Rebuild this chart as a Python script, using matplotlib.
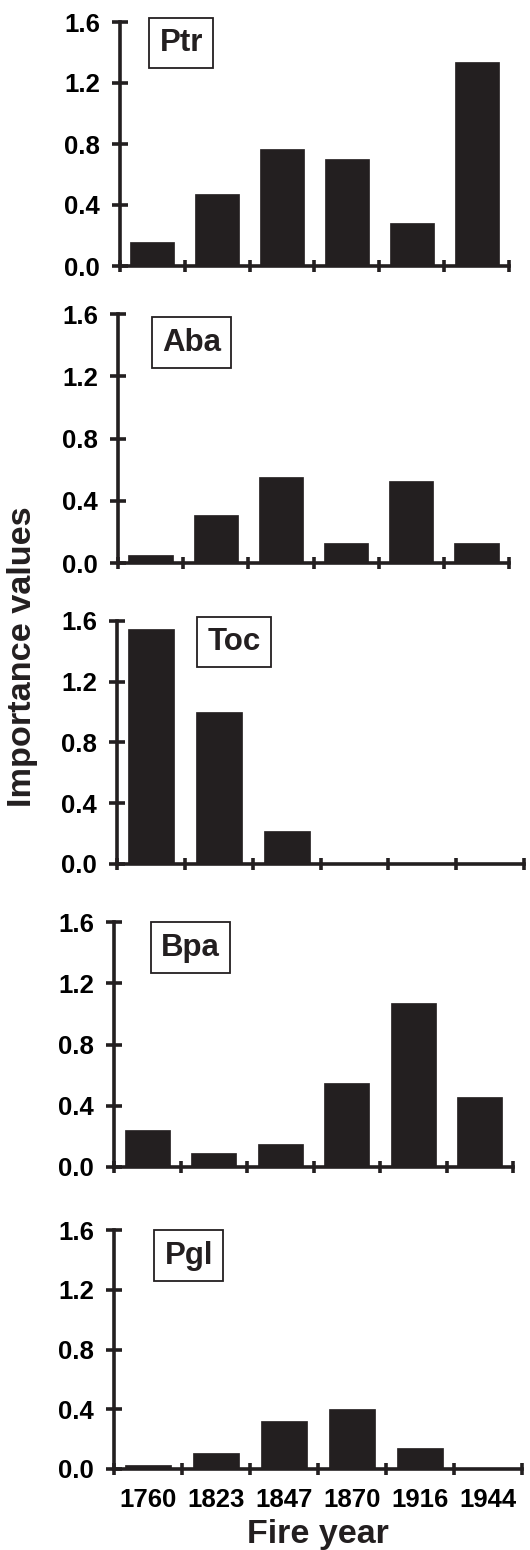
import matplotlib
matplotlib.use('Agg')
import matplotlib.pyplot as plt

plt.rcParams['font.family'] = ['Liberation Sans', 'DejaVu Sans']
plt.rcParams['font.weight'] = 'bold'

years = ['1760', '1823', '1847', '1870', '1916', '1944']
species = ['Ptr', 'Aba', 'Toc', 'Bpa', 'Pgl']
ptr = [0.16, 0.47, 0.77, 0.70, 0.28, 1.34]
aba = [0.05, 0.31, 0.55, 0.13, 0.53, 0.13]
toc = [1.55, 1.00, 0.22, 0.0, 0.0, 0.0]
bpa = [0.24, 0.09, 0.15, 0.55, 1.07, 0.46]
pgl = [0.03, 0.11, 0.32, 0.40, 0.14, 0.0]
values = [ptr, aba, toc, bpa, pgl]
yticks = [0.0, 0.4, 0.8, 1.2, 1.6]

W, H = 530, 1550
# panel boxes in pixels: left, right, top, bottom
boxes = [(120, 509, 22, 266), (118, 509, 314, 563), (117, 524, 621, 864),
         (114, 513, 922, 1167), (114, 522, 1230, 1469)]
# label box centres in axes fraction
label_pos = [(0.158, 0.914), (0.188, 0.885), (0.288, 0.914),
             (0.192, 0.895), (0.183, 0.892)]

ink = '#231f20'
fig = plt.figure(figsize=(W / 100, H / 100), dpi=100)

for i, (name, vals) in enumerate(zip(species, values)):
    l, r, t, b = boxes[i]
    ax = fig.add_axes([l / W, 1 - b / H, (r - l) / W, (b - t) / H])
    x = [k + 0.5 for k in range(len(years))]
    ax.bar(x, vals, width=0.68, color=ink, edgecolor=ink, linewidth=0.5)
    ax.set_xlim(0, 6)
    ax.set_ylim(0, 1.6)
    for s in ['top', 'right']:
        ax.spines[s].set_visible(False)
    for s in ['left', 'bottom']:
        ax.spines[s].set_linewidth(2.6)
        ax.spines[s].set_color(ink)
    ax.set_yticks(yticks)
    ax.set_yticklabels([f'{v:.1f}' for v in yticks], fontsize=18.5, fontweight='bold')
    ax.tick_params(axis='y', direction='inout', length=11, width=2.6,
                   color=ink, pad=9)
    ax.set_xticks(range(7))
    ax.set_xticklabels([])
    ax.tick_params(axis='x', which='major', direction='inout', length=8.5,
                   width=2.6, color=ink)
    if i == len(species) - 1:
        ax.set_xticks(x, minor=True)
        ax.set_xticklabels(years, minor=True, fontsize=18.5, fontweight='bold')
        ax.tick_params(axis='x', which='minor', length=0, pad=14)
    ax.text(label_pos[i][0], label_pos[i][1], name, transform=ax.transAxes,
            ha='center', va='center', fontsize=22.5, fontweight='bold', color=ink,
            bbox=dict(boxstyle='square,pad=0.33', facecolor='white',
                      edgecolor=ink, linewidth=1.3), zorder=5, clip_on=False)

fig.text(22.5 / W, 1 - 657 / H, 'Importance values', rotation=90, ha='center',
         va='center', fontsize=24.7, fontweight='bold', color=ink)
fig.text(0.6, 1 - 1535 / H, 'Fire year', ha='center', va='center',
         fontsize=24.5, fontweight='bold', color=ink)

fig.savefig('out.png', dpi=100)
